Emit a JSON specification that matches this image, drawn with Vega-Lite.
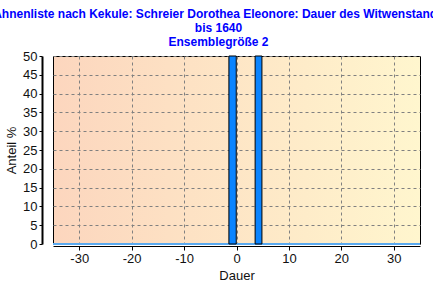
{
  "$schema": "https://vega.github.io/schema/vega-lite/v6.json",
  "width": 367,
  "height": 188,
  "autosize": {"type": "none"},
  "padding": {"left": 53, "top": 56, "right": 13, "bottom": 50},
  "background": {"gradient": "linear", "x1": 0, "y1": 0, "x2": 1, "y2": 0, "stops": [{"offset": 0, "color": "#ffb4a2"}, {"offset": 1, "color": "#fff8c8"}]},
  "title": {
    "text": ["Ahnenliste nach Kekule: Schreier Dorothea Eleonore: Dauer des Witwenstands", "bis 1640", "Ensemblegröße 2"],
    "color": "#0000ff",
    "font": "Liberation Sans",
    "fontSize": 12,
    "fontWeight": "bold",
    "lineHeight": 14,
    "anchor": "middle",
    "dx": -18,
    "offset": 1
  },
  "config": {
    "view": {
      "fill": {"gradient": "linear", "x1": 0, "y1": 0, "x2": 1, "y2": 0, "stops": [{"offset": 0, "color": "#fcd6be"}, {"offset": 1, "color": "#fff6ce"}]},
      "stroke": "black",
      "strokeWidth": 1
    },
    "axis": {
      "labelFont": "Liberation Sans",
      "labelFontSize": 13,
      "labelColor": "#111111",
      "titleFont": "Liberation Sans",
      "titleFontSize": 13,
      "titleFontWeight": "normal",
      "titleColor": "#111111",
      "domainColor": "black",
      "tickColor": "black",
      "gridColor": "#808080",
      "gridDash": [3, 3],
      "gridOpacity": 1
    }
  },
  "data": {"values": [
    {"start": -1.45, "end": -0.05, "anteil": 50},
    {"start": 3.55, "end": 4.85, "anteil": 50}
  ]},
  "layer": [
    {
      "mark": {"type": "rule", "color": "#5aaaf0", "strokeWidth": 2},
      "encoding": {"y": {"datum": 0, "type": "quantitative", "scale": {"domain": [0, 50], "nice": false},
          "axis": {"title": "Anteil %", "values": [0, 5, 10, 15, 20, 25, 30, 35, 40, 45, 50], "offset": 11, "tickSize": 3, "labelPadding": 2, "titlePadding": 4, "grid": true, "domainWidth": 2}}}
    },
    {
      "mark": {"type": "bar", "color": "#0a84ff", "stroke": "black", "strokeWidth": 1},
      "encoding": {
        "x": {"field": "start", "type": "quantitative", "scale": {"domain": [-35, 35], "nice": false},
          "axis": {"title": "Dauer", "values": [-30, -20, -10, 0, 10, 20, 30], "labelExpr": "replace(datum.label, '−', '-')", "offset": 2, "tickSize": 4, "labelPadding": 2, "titlePadding": 4, "grid": true, "domainWidth": 1}},
        "x2": {"field": "end"},
        "y": {"field": "anteil", "type": "quantitative", "scale": {"domain": [0, 50], "nice": false},
          "axis": {"title": "Anteil %", "values": [0, 5, 10, 15, 20, 25, 30, 35, 40, 45, 50], "offset": 11, "tickSize": 3, "labelPadding": 2, "titlePadding": 4, "grid": true, "domainWidth": 2}},
        "y2": {"datum": 0}
      }
    }
  ]
}
